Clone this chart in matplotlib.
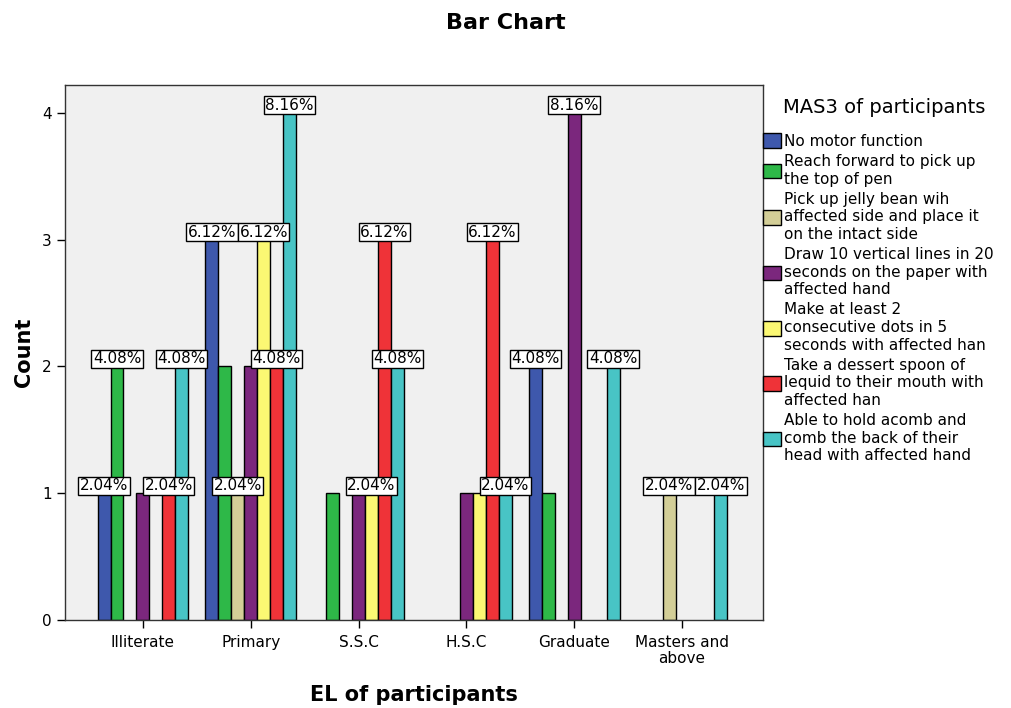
import numpy as np
import matplotlib
matplotlib.use("Agg")
from matplotlib import pyplot as plt

# categories (x axis) and MAS3 groups (legend)
categories = ["Illiterate", "Primary", "S.S.C", "H.S.C", "Graduate", "Masters and\nabove"]
groups = ["No motor function",
          "Reach forward to pick up\nthe top of pen",
          "Pick up jelly bean wih\naffected side and place it\non the intact side",
          "Draw 10 vertical lines in 20\nseconds on the paper with\naffected hand",
          "Make at least 2\nconsecutive dots in 5\nseconds with affected han",
          "Take a dessert spoon of\nlequid to their mouth with\naffected han",
          "Able to hold acomb and\ncomb the back of their\nhead with affected hand"]
colors = ["#3E58AC", "#2EB848", "#D3CE97", "#7B277D", "#FBF873", "#EF3338", "#48C4C5"]

counts_blue = [1, 3, 0, 0, 2, 0]
counts_green = [2, 2, 1, 0, 1, 0]
counts_tan = [0, 1, 0, 0, 0, 1]
counts_purple = [1, 2, 1, 1, 4, 0]
counts_yellow = [0, 3, 1, 1, 0, 0]
counts_red = [1, 2, 3, 3, 0, 0]
counts_cyan = [2, 4, 2, 1, 2, 1]
counts = [counts_blue, counts_green, counts_tan, counts_purple,
          counts_yellow, counts_red, counts_cyan]

# which percentage labels are visible in the original (SPSS hides overlapping ones)
show_blue = [1, 1, 0, 0, 1, 0]
show_green = [1, 0, 0, 0, 0, 0]
show_tan = [0, 1, 0, 0, 0, 1]
show_purple = [0, 0, 0, 0, 1, 0]
show_yellow = [0, 1, 1, 0, 0, 0]
show_red = [1, 1, 1, 1, 0, 0]
show_cyan = [1, 1, 1, 1, 1, 1]
show = [show_blue, show_green, show_tan, show_purple, show_yellow, show_red, show_cyan]

total = 49

fig = plt.figure(figsize=(10.11, 7.08), dpi=100)
ax = fig.add_axes([0.0643, 0.1243, 0.6904, 0.7557])
ax.set_facecolor("#F0F0F0")

x = np.arange(len(categories))
w = 0.12
handles = []
for i in range(len(groups)):
    vals = np.array(counts[i], dtype=float)
    xs = x + (i - 3) * w
    nz = vals > 0
    ax.bar(xs[nz], vals[nz], width=w, color=colors[i], edgecolor="black", linewidth=1.0, zorder=2)
    handles.append(plt.Rectangle((0, 0), 1, 1, facecolor=colors[i], edgecolor="black", linewidth=1.0))

# percentage labels (drawn after all bars so they sit on top)
for i in range(len(groups)):
    for j in range(len(categories)):
        if show[i][j] and counts[i][j] > 0:
            ax.text(x[j] + (i - 3) * w, counts[i][j], "%.2f%%" % (counts[i][j] / total * 100),
                    ha="center", va="bottom", fontsize=11, zorder=4,
                    bbox=dict(boxstyle="square,pad=0.1", fc="white", ec="black", lw=1.0))

ax.set_xlim(-0.722, 5.75)
ax.set_ylim(0, 4.22)
ax.set_yticks([0, 1, 2, 3, 4])
ax.set_xticks(x)
ax.set_xticklabels(categories, fontsize=11, linespacing=1.1)
ax.tick_params(axis="y", labelsize=11, length=6, width=1, direction="out")
ax.tick_params(axis="x", length=6, width=1, direction="out", pad=5)
for s in ax.spines.values():
    s.set_color("#333333")
    s.set_linewidth(1.0)

ax.set_xlabel("EL of participants", fontsize=15, fontweight="bold", labelpad=13)
ax.set_ylabel("Count", fontsize=15, fontweight="bold", labelpad=6)
fig.suptitle("Bar Chart", fontsize=16, fontweight="bold", y=0.982)

leg = ax.legend(handles, groups, loc="upper left", bbox_to_anchor=(1.0, 0.976),
                frameon=False, fontsize=11, title="MAS3 of participants",
                title_fontsize=14, handlelength=1.2, handleheight=1.1,
                handletextpad=0.15, labelspacing=0.33, borderpad=0, borderaxespad=0,
                alignment="left")
for t in leg.get_texts():
    t.set_linespacing(1.22)
leg._legend_box.sep = 12
leg.get_title().set_position((20, 0))

fig.savefig("out.png", dpi=100, facecolor="white")
